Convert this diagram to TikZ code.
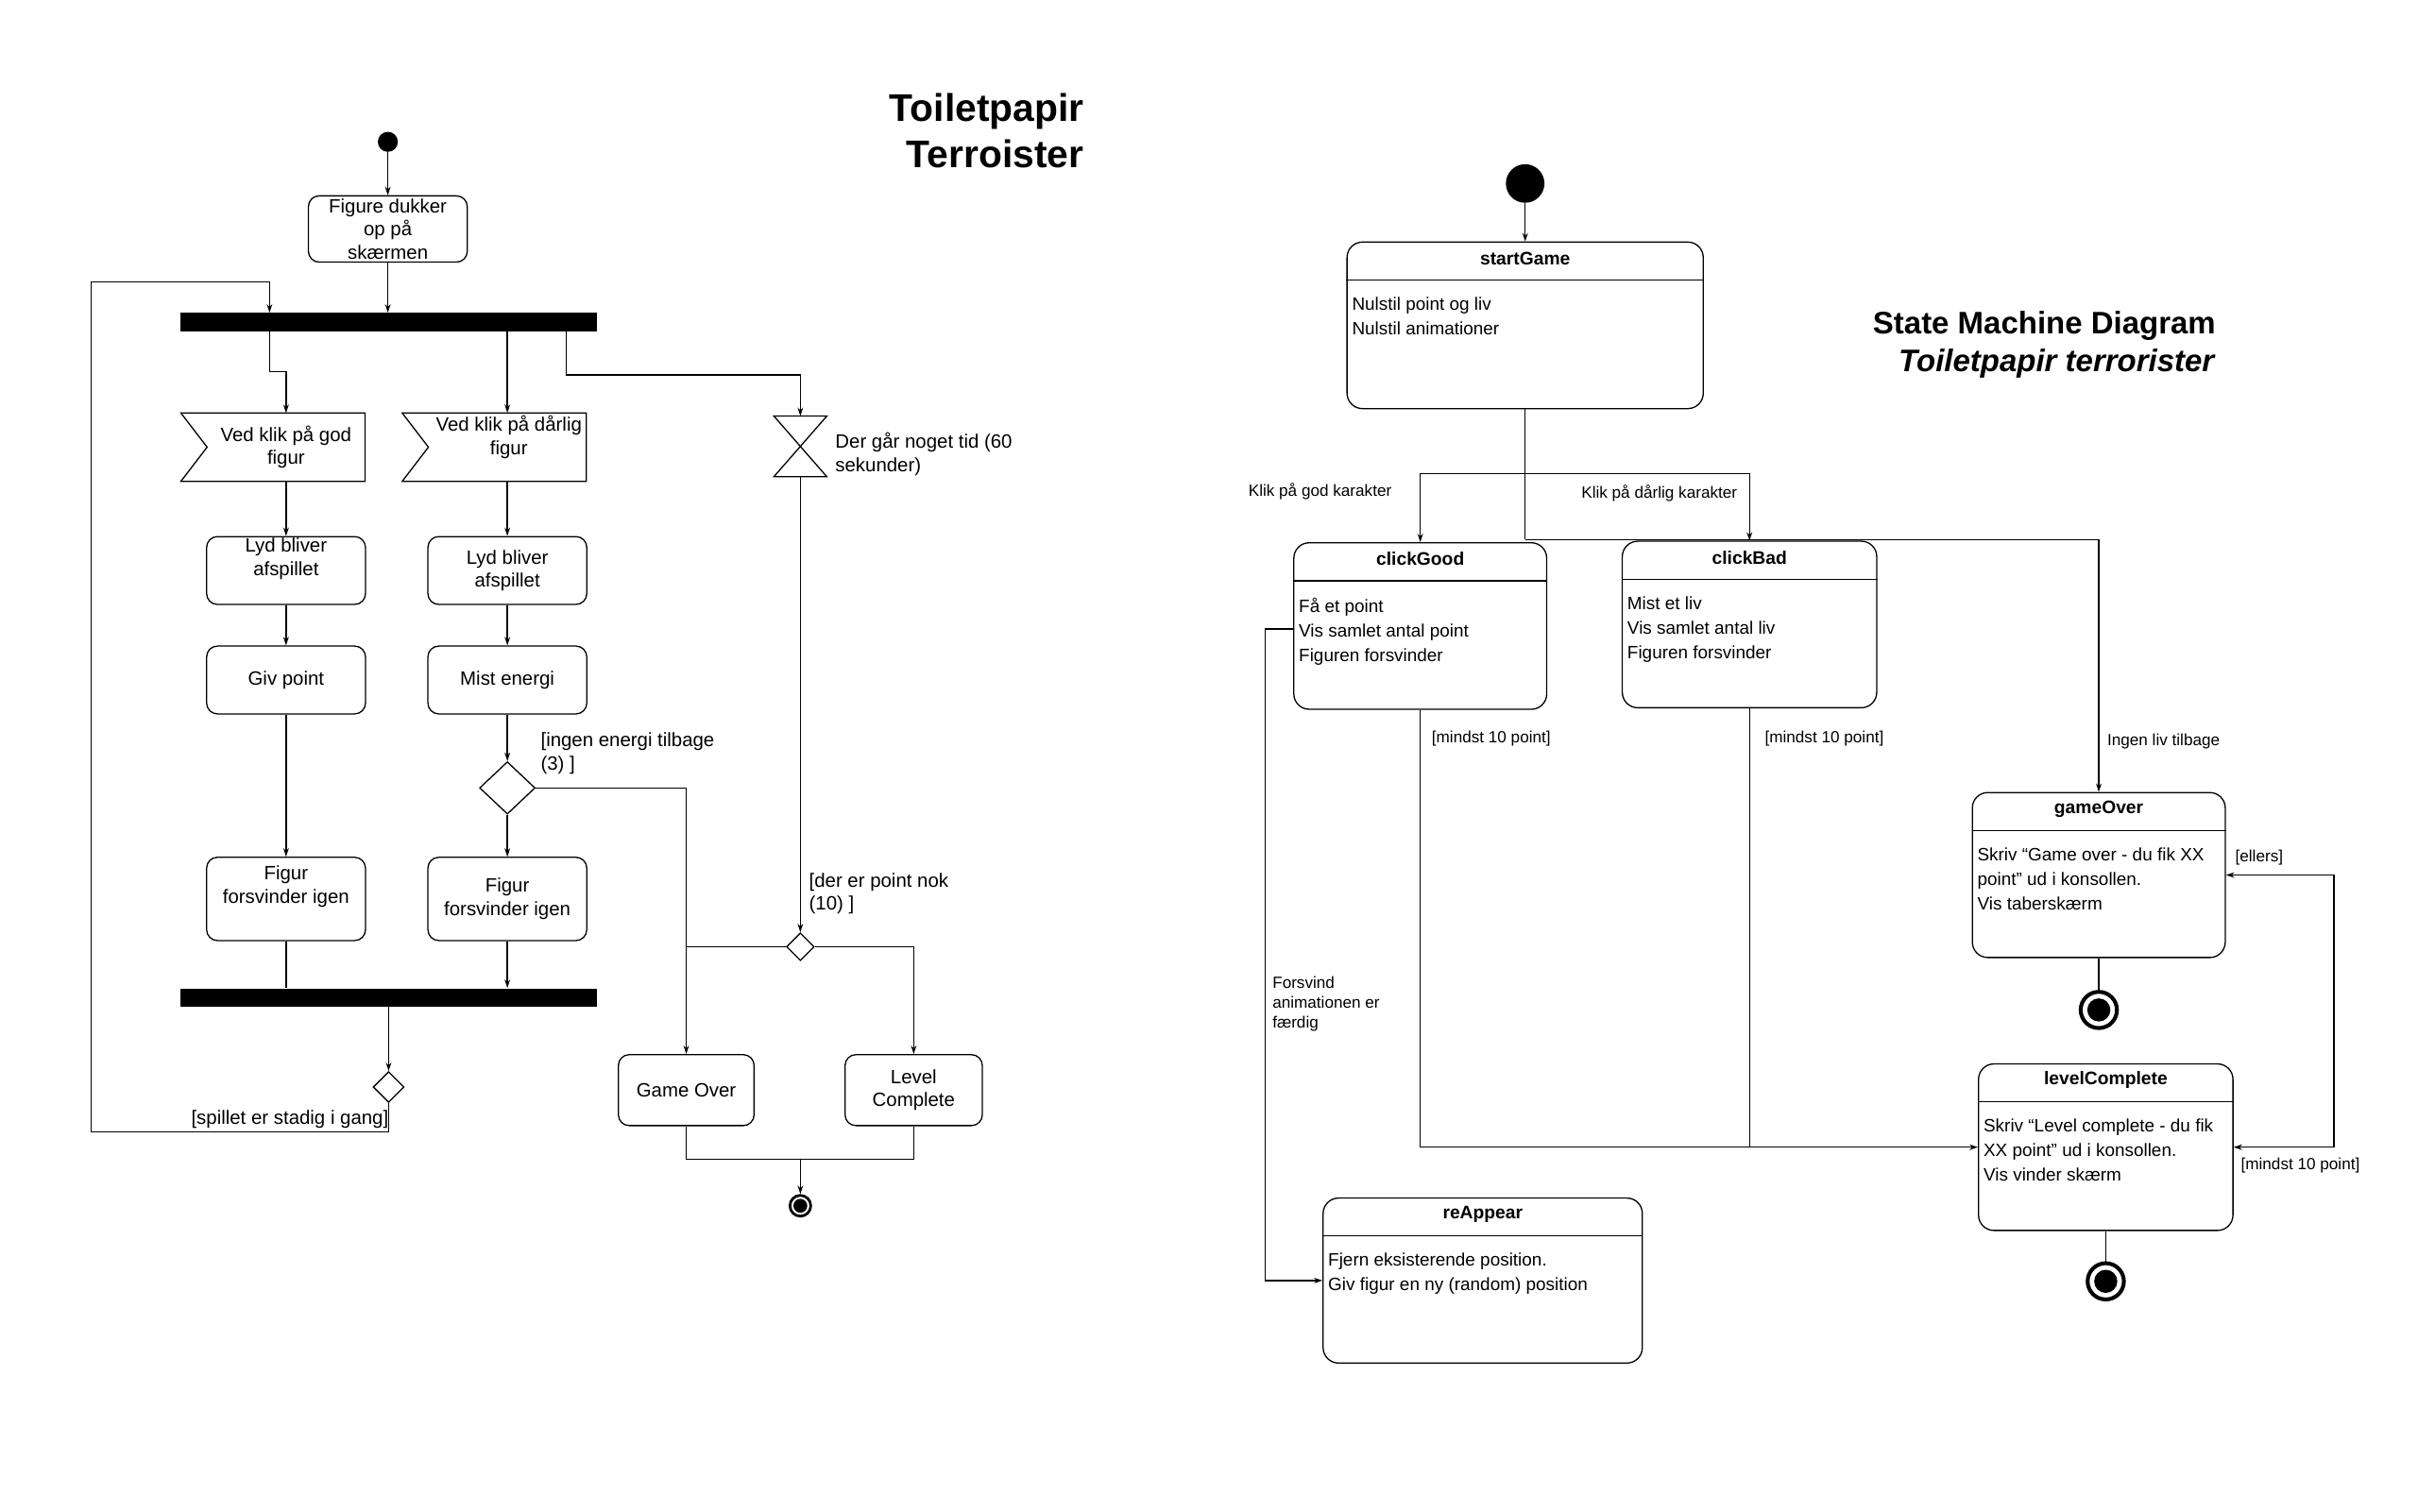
\documentclass[tikz,border=0pt]{standalone}
\usepackage{fontspec}
\setmainfont{Liberation Sans}
\usetikzlibrary{shapes.geometric,arrows.meta,calc}
\newcommand\mylt{\fontsize{12.5}{15}\selectfont}
\newcommand\myrt{\fontsize{11.6}{16}\selectfont}
\newcommand\myrl{\fontsize{10.5}{13}\selectfont}
\newcommand\mystate[6]{%
  \node[state,minimum width=#3pt,minimum height=#4pt] (#1) at (#2) {};
  \draw[ln] ($(#1.north west)+(0,25)$) -- ($(#1.north east)+(0,25)$);
  \node[stitle] (#1-t) at ($(#1.north)+(0,11)$) {#5};
  \node[sbody,anchor=north west] (#1-b) at ($(#1.north west)+(3.5,36)$) {#6};
}
\begin{document}
\begin{tikzpicture}[x=1pt,y=-1pt,
  ln/.style={line width=0.8pt},
  arr/.style={ln,-{Stealth[length=5.5pt,width=3.6pt]}},
  barr/.style={ln,{Stealth[length=5.5pt,width=3.6pt]}-{Stealth[length=5.5pt,width=3.6pt]}},
  act/.style={draw,ln,rounded corners=7pt,minimum width=103pt,minimum height=44pt,inner sep=0pt,align=center,font=\mylt},
  sig/.style={minimum width=102pt,minimum height=44pt,inner sep=0pt,align=center,font=\mylt},
  bar/.style={fill=black,minimum width=270pt,minimum height=12pt,inner sep=0pt},
  dec/.style={diamond,draw,ln,inner sep=0pt},
  txt/.style={inner sep=0pt,align=center,font=\mylt},
  ltxt/.style={inner sep=0pt,align=left,font=\mylt},
  state/.style={draw,ln,rounded corners=10pt,inner sep=0pt},
  stitle/.style={inner sep=0pt,font=\fontsize{11.8}{14}\selectfont\bfseries},
  sbody/.style={inner sep=0pt,align=left,font=\myrt},
  lab/.style={inner sep=0pt,align=left,font=\myrl},
  startdot/.style={circle,fill=black,inner sep=0pt},
  enddot/.style={circle,draw,inner sep=0pt}]
\useasboundingbox (0,0) rectangle (1568,980);

% ---------------- titles
\node[anchor=east,align=right,inner sep=0pt,font=\fontsize{25}{30}\selectfont\bfseries] (title1) at (703,85) {Toiletpapir\\Terroister};
\node[anchor=east,align=right,inner sep=0pt,font=\fontsize{20.2}{25}\selectfont\bfseries] (title2) at (1437,223.5) {State Machine Diagram\\\textit{Toiletpapir terrorister}};

% ---------------- activity diagram
\node[startdot,minimum size=13pt] (init1) at (251.5,92) {};
\node[act,minimum height=43pt] (A) at (251.5,148.5) {\fontsize{12.5}{14.5}\selectfont Figure dukker\\op på\\skærmen};
\node[bar] (bar1) at (252,209) {};

\node[sig] (sig1) at (185.5,290) {Ved klik på god\\figur};
\draw[ln] ($(sig1.north west)+(-17,0)$) -- (sig1.north east) -- (sig1.south east) -- ($(sig1.south west)+(-17,0)$) -- (sig1.west) -- cycle;
\node[sig] (sig2) at (329,290) {};
\draw[ln] ($(sig2.north west)+(-17,0)$) -- (sig2.north east) -- (sig2.south east) -- ($(sig2.south west)+(-17,0)$) -- (sig2.west) -- cycle;
\node[txt] (sig2t) at (330,283.5) {Ved klik på dårlig\\figur};

\node[minimum width=34pt,minimum height=39pt,inner sep=0pt] (hg) at (519,289.5) {};
\draw[ln] (hg.north west) -- (hg.north east) -- (hg.south west) -- (hg.south east) -- cycle;
\node[ltxt,anchor=west] (hgt) at (541.5,294.5) {Der går noget tid (60\\sekunder)};

\node[act] (lyd1) at (185.5,370) {};
\node[txt] (lyd1t) at (185.5,362.5) {Lyd bliver\\afspillet};
\node[act] (lyd2) at (329,370) {Lyd bliver\\afspillet};
\node[act] (giv) at (185.5,441) {Giv point};
\node[act] (mist) at (329,441) {Mist energi};
\node[dec,minimum width=36pt,minimum height=34pt] (dia1) at (329,511) {};
\node[ltxt,anchor=west] (dia1t) at (350.5,488.5) {[ingen energi tilbage\\(3) ]};
\node[act,minimum height=54pt] (fig1) at (185.5,583) {};
\node[txt] (fig1t) at (185.5,575) {Figur\\forsvinder igen};
\node[act,minimum height=54pt] (fig2) at (329,583) {Figur\\forsvinder igen};
\node[bar] (bar2) at (252,647) {};
\node[dec,minimum width=20pt,minimum height=20pt] (d2) at (252,705) {};
\node[txt] (d2t) at (188,726) {[spillet er stadig i gang]};

\node[dec,minimum width=18pt,minimum height=18pt] (dia2) at (519,614) {};
\node[ltxt,anchor=west] (dia2t) at (524.5,579.5) {[der er point nok\\(10) ]};
\node[act,minimum width=88pt,minimum height=46pt] (go) at (445,707) {Game Over};
\node[act,minimum width=89pt,minimum height=46pt] (lc) at (592.5,707) {Level\\Complete};
\node[enddot,line width=1.7pt,minimum size=13.5pt] (fin1) at (519,782) {};
\fill (fin1.center) circle (4.5pt);

\coordinate (lpbl) at (59,734);
\coordinate (lptl) at (59,183);
\coordinate (jn) at (519,752);

\draw[arr] (init1) -- (A);
\draw[arr] (A.south) -- (A.south |- bar1.north);
\draw[arr] (d2.south) |- (lpbl) -- (lptl) -| ($(bar1.north west)+(58,0)$);
\draw[arr] ($(bar1.south west)+(58,0)$) -- ++(0,26) -| (sig1.north);
\draw[arr] (bar1.south -| sig2.north) -- (sig2.north);
\draw[arr] ($(bar1.south east)+(-20,0)$) -- ++(0,28) -| (hg.north);
\draw[arr] (sig1.south) -- (lyd1.north);
\draw[arr] (sig2.south) -- (lyd2.north);
\draw[arr] (lyd1) -- (giv);
\draw[arr] (lyd2) -- (mist);
\draw[arr] (giv) -- (fig1);
\draw[arr] (mist) -- (dia1);
\draw[arr] (dia1) -- (fig2);
\draw[arr] (dia1.east) -| (go.north);
\draw[ln] (fig1.south) -- (fig1.south |- bar2.north);
\draw[arr] (fig2.south) -- (fig2.south |- bar2.north);
\draw[arr] (bar2.south -| d2.north) -- (d2.north);
\draw[arr] (hg.south) -- (dia2.north);
\draw[ln] (dia2.west) -- (dia2.west -| go.north);
\draw[arr] (dia2.east) -| (lc.north);
\draw[ln] (go.south) |- (jn) -| (lc.south);
\draw[arr] (jn) -- (fin1);

% ---------------- state machine diagram
\node[startdot,minimum size=25pt] (init2) at (989,119) {};
\mystate{startGame}{989,211}{231}{108}{startGame}{Nulstil point og liv\\Nulstil animationer}
\mystate{clickGood}{921,406}{164}{108}{clickGood}{Få et point\\Vis samlet antal point\\Figuren forsvinder}
\mystate{clickBad}{1134.5,405}{165}{108}{clickBad}{Mist et liv\\Vis samlet antal liv\\Figuren forsvinder}
\mystate{gameOver}{1361,567.5}{164}{107}{gameOver}{Skriv “Game over - du fik XX\\point” ud i konsollen.\\Vis taberskærm}
\mystate{levelComplete}{1365.5,744}{165}{108}{levelComplete}{Skriv “Level complete - du fik\\XX point” ud i konsollen.\\Vis vinder skærm}
\mystate{reAppear}{961.5,830.5}{207}{107}{reAppear}{Fjern eksisterende position.\\Giv figur en ny (random) position}

\node[enddot,line width=2.5pt,minimum size=23.5pt] (fin2) at (1361,655) {};
\fill (fin2.center) circle (7.5pt);
\node[enddot,line width=2.5pt,minimum size=23.5pt] (fin3) at (1365.5,831) {};
\fill (fin3.center) circle (7.5pt);

\coordinate (j1) at (989,307);
\coordinate (j2) at (989,350);
\draw[arr] (init2) -- (startGame.north);
\draw[ln] (startGame.south) -- (j2);
\draw[arr] (j1) -| (clickGood.north);
\draw[arr] (j1) -| (clickBad.north);
\draw[arr] (j2) -| (gameOver.north);
\draw[arr] (clickGood.south) |- (levelComplete.west);
\draw[ln] (clickBad.south) -- (clickBad.south |- levelComplete.west);
\draw[arr] ($(clickGood.west)+(0,2)$) -- ++(-18,0) |- (reAppear.west);
\draw[ln] (gameOver.south) -- (fin2);
\draw[ln] (levelComplete.south) -- (fin3);
\draw[barr] (gameOver.east) -- ++(70,0) |- (levelComplete.east);

\node[lab] (l1) at (856,319) {Klik på god karakter};
\node[lab] (l2) at (1076,320) {Klik på dårlig karakter};
\node[lab] (l3) at (1403,481) {Ingen liv tilbage};
\node[lab] (l4) at (967,479) {[mindst 10 point]};
\node[lab] (l5) at (1183,479) {[mindst 10 point]};
\node[lab,anchor=north west] (l6) at (825,633) {Forsvind\\animationen er\\færdig};
\node[lab] (l7) at (1465,556) {[ellers]};
\node[lab,anchor=west] (l8) at (1453,756) {[mindst 10 point]};
\end{tikzpicture}
\end{document}
